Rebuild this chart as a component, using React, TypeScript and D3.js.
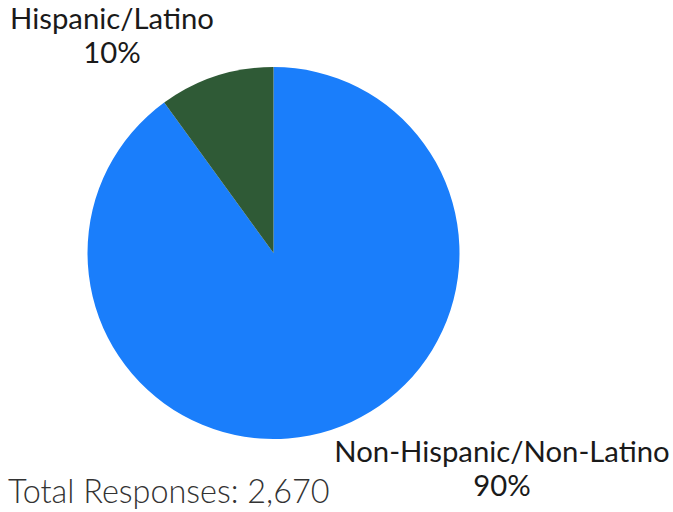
import React from "react";
import * as d3 from "d3";

const categories = ["Non-Hispanic/Non-Latino", "Hispanic/Latino"];
const values = [90, 10];
const colors = ["#1a7efb", "#2f5a36"];
const totalLabel = "Total Responses: 2,670";

export default function App() {
  const width = 673;
  const height = 512;
  const cx = 273.5;
  const cy = 253;
  const r = 186;
  const pie = d3.pie<number>().sort(null).startAngle(0).endAngle(2 * Math.PI);
  const arcs = pie(values);
  const arc = d3.arc<d3.PieArcDatum<number>>().innerRadius(0).outerRadius(r);
  const labelPos = [
    { x: 502, y: 462 },
    { x: 112, y: 29 },
  ];
  return (
    <svg width={width} height={height} style={{ position: "absolute", left: 0, top: 0 }}>
      <g transform={`translate(${cx},${cy})`}>
        {arcs.map((a, i) => (
          <path key={i} d={arc(a) || ""} fill={colors[i]} />
        ))}
      </g>
      {categories.map((c, i) => (
        <text
          key={c}
          x={labelPos[i].x}
          y={labelPos[i].y}
          textAnchor="middle"
          fontFamily="Lato"
          fontSize={29.3}
          fill="#1a1a1a"
        >
          <tspan x={labelPos[i].x}>{c}</tspan>
          <tspan x={labelPos[i].x} dy={34}>{`${values[i]}%`}</tspan>
        </text>
      ))}
      <text x={8} y={503} fontFamily="Lato" fontWeight={300} fontSize={32.4} fill="#333">
        {totalLabel}
      </text>
    </svg>
  );
}
